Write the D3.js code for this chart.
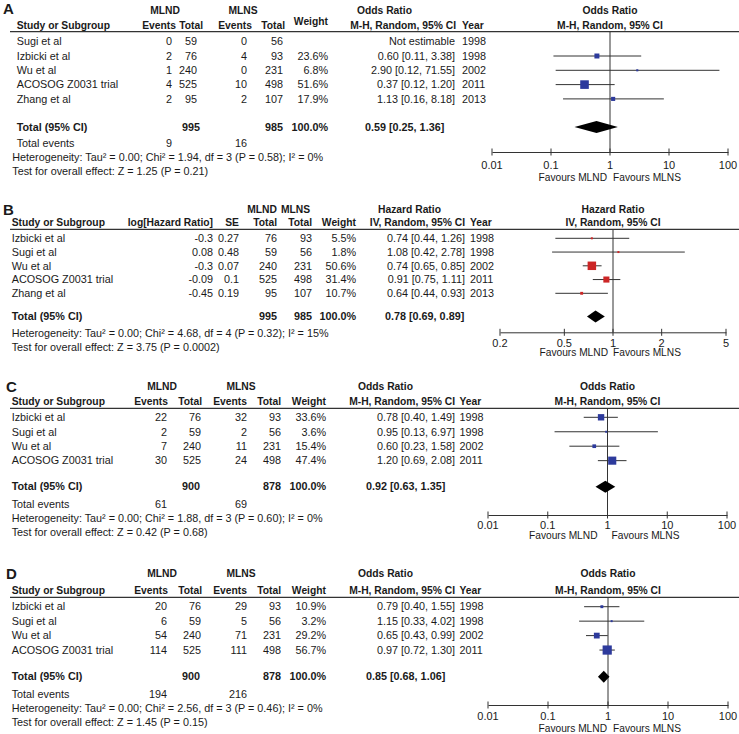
<!DOCTYPE html>
<html><head><meta charset="utf-8">
<script src="https://cdn.jsdelivr.net/npm/d3@7"></script>
<style>
body{margin:0;background:#fff}
text{font-family:"Liberation Sans",Arial,sans-serif;fill:#1a1a1a}
</style>
</head><body>
<svg id="chart" width="739" height="734"></svg>
<script>
// ---------------- DATA ----------------
// Panel A
const studiesA = ["Sugi et al","Izbicki et al","Wu et al","ACOSOG Z0031 trial","Zhang et al"];
const evtNdA = [0,2,1,4,2];
const totNdA = [59,76,240,525,95];
const evtNsA = [0,4,0,10,2];
const totNsA = [56,93,231,498,107];
const weightA = [null,23.6,6.8,51.6,17.9];
const estA = [null,0.60,2.90,0.37,1.13];
const lowA = [null,0.11,0.12,0.12,0.16];
const highA = [null,3.38,71.55,1.20,8.18];
const yearA = [1998,1998,2002,2011,2013];
const totalsA = [995,985];
const pooledA = [0.59,0.25,1.36];
const totalEventsA = [9,16];
const hetA = "Heterogeneity: Tau\u00b2 = 0.00; Chi\u00b2 = 1.94, df = 3 (P = 0.58); I\u00b2 = 0%";
const testA = "Test for overall effect: Z = 1.25 (P = 0.21)";

// Panel B
const studiesB = ["Izbicki et al","Sugi et al","Wu et al","ACOSOG Z0031 trial","Zhang et al"];
const logHRB = [-0.3,0.08,-0.3,-0.09,-0.45];
const seB = [0.27,0.48,0.07,0.1,0.19];
const totNdB = [76,59,240,525,95];
const totNsB = [93,56,231,498,107];
const weightB = [5.5,1.8,50.6,31.4,10.7];
const estB = [0.74,1.08,0.74,0.91,0.64];
const lowB = [0.44,0.42,0.65,0.75,0.44];
const highB = [1.26,2.78,0.85,1.11,0.93];
const yearB = [1998,1998,2002,2011,2013];
const totalsB = [995,985];
const pooledB = [0.78,0.69,0.89];
const hetB = "Heterogeneity: Tau\u00b2 = 0.00; Chi\u00b2 = 4.68, df = 4 (P = 0.32); I\u00b2 = 15%";
const testB = "Test for overall effect: Z = 3.75 (P = 0.0002)";

// Panel C
const studiesC = ["Izbicki et al","Sugi et al","Wu et al","ACOSOG Z0031 trial"];
const evtNdC = [22,2,7,30];
const totNdC = [76,59,240,525];
const evtNsC = [32,2,11,24];
const totNsC = [93,56,231,498];
const weightC = [33.6,3.6,15.4,47.4];
const estC = [0.78,0.95,0.60,1.20];
const lowC = [0.40,0.13,0.23,0.69];
const highC = [1.49,6.97,1.58,2.08];
const yearC = [1998,1998,2002,2011];
const totalsC = [900,878];
const pooledC = [0.92,0.63,1.35];
const totalEventsC = [61,69];
const hetC = "Heterogeneity: Tau\u00b2 = 0.00; Chi\u00b2 = 1.88, df = 3 (P = 0.60); I\u00b2 = 0%";
const testC = "Test for overall effect: Z = 0.42 (P = 0.68)";

// Panel D
const studiesD = ["Izbicki et al","Sugi et al","Wu et al","ACOSOG Z0031 trial"];
const evtNdD = [20,6,54,114];
const totNdD = [76,59,240,525];
const evtNsD = [29,5,71,111];
const totNsD = [93,56,231,498];
const weightD = [10.9,3.2,29.2,56.7];
const estD = [0.79,1.15,0.65,0.97];
const lowD = [0.40,0.33,0.43,0.72];
const highD = [1.55,4.02,0.99,1.30];
const yearD = [1998,1998,2002,2011];
const totalsD = [900,878];
const pooledD = [0.85,0.68,1.06];
const totalEventsD = [194,216];
const hetD = "Heterogeneity: Tau\u00b2 = 0.00; Chi\u00b2 = 2.56, df = 3 (P = 0.46); I\u00b2 = 0%";
const testD = "Test for overall effect: Z = 1.45 (P = 0.15)";

// Axis ticks
const orTicks = [0.01,0.1,1,10,100];
const orTickLabels = ["0.01","0.1","1","10","100"];
const hrTicks = [0.2,0.5,1,2,5];
const hrTickLabels = ["0.2","0.5","1","2","5"];
const favourLabels = ["Favours MLND","Favours MLNS"];

// ---------------- DRAWING ----------------
const svg = d3.select("#chart");
const FS = 10.8;
const HFS = 10.3;
const LINE = "#333";
const BLUE = "#2d3a9c";
const RED = "#cc2626";

function txt(x, y, s, o = {}) {
  return svg.append("text")
    .attr("x", x).attr("y", y).attr("dy", "0.35em")
    .attr("text-anchor", o.anchor || "start")
    .attr("font-size", o.size || (o.bold ? HFS : FS))
    .attr("font-weight", o.bold ? "bold" : "normal")
    .text(s);
}
const ciStr = (e, l, h) => `${e.toFixed(2)} [${l.toFixed(2)}, ${h.toFixed(2)}]`;
const sizeScale = d3.scalePow().exponent(0.7).domain([0, 55]).range([0, 9]);

function drawPanel(p) {
  const rowY = i => p.rowY0 + i * p.rowStep;

  txt(p.letterX, p.letterY, p.letter, {bold: true, size: 15});

  p.groups.forEach(gp => txt(gp.x, p.h1Y, gp.label, {bold: true, anchor: gp.anchor || "middle"}));
  txt(p.labelX, p.h2Y, "Study or Subgroup", {bold: true});
  p.cols.forEach(c => {
    txt(c.hx, c.hy !== undefined ? c.hy : p.h2Y, c.hdr, {bold: true, anchor: "end"});
    c.values.forEach((v, i) => {
      if (v === null || v === undefined) return;
      txt(c.x, rowY(i), c.fmt ? c.fmt(v) : String(v), {anchor: "end"});
    });
    if (c.total !== undefined) txt(c.tx !== undefined ? c.tx : c.x, p.totalY, String(c.total), {anchor: "end", bold: true, size: FS});
    if (c.events !== undefined) txt(c.x, p.totEventsY, String(c.events), {anchor: "end"});
  });
  txt(p.ciH1X, p.h1Y, p.measure, {bold: true});
  txt(p.ciHX, p.h2Y, p.method, {bold: true, anchor: "end"});
  txt(p.yearX, p.h2Y, "Year", {bold: true});

  p.studies.forEach((s, i) => {
    txt(p.labelX, rowY(i), s);
    txt(p.ciX, rowY(i), p.est[i] === null ? "Not estimable" : ciStr(p.est[i], p.low[i], p.high[i]), {anchor: "end"});
    txt(p.yearX, rowY(i), String(p.year[i]));
  });
  txt(p.labelX, p.totalY, "Total (95% CI)", {bold: true, size: FS});
  txt(p.totCiX, p.totalY, ciStr(p.pooled[0], p.pooled[1], p.pooled[2]), {bold: true, size: FS});
  if (p.totEventsY !== undefined) txt(p.labelX, p.totEventsY, "Total events");
  txt(p.hetX, p.hetY, p.het);
  txt(p.hetX, p.testY, p.test);

  svg.append("line").attr("x1", 10).attr("x2", 739).attr("y1", p.ruleY).attr("y2", p.ruleY)
    .attr("stroke", LINE).attr("stroke-width", 1.3);

  const x = d3.scaleLog().domain(p.domain).range(p.range);
  const cx = x(1);
  txt(cx, p.h1Y, p.measure, {bold: true, anchor: "middle"});
  txt(cx, p.h2Y, p.method, {bold: true, anchor: "middle"});

  svg.append("line").attr("x1", cx).attr("x2", cx).attr("y1", p.ruleY).attr("y2", p.axisY)
    .attr("stroke", LINE).attr("stroke-width", 1);

  p.studies.forEach((s, i) => {
    if (p.est[i] === null) return;
    const y = rowY(i);
    svg.append("line").attr("x1", x(p.low[i])).attr("x2", x(p.high[i]))
      .attr("y1", y).attr("y2", y).attr("stroke", LINE).attr("stroke-width", 1);
    const sz = Math.max(2, sizeScale(p.weight[i]));
    svg.append("rect").attr("x", x(p.est[i]) - sz / 2).attr("y", y - sz / 2)
      .attr("width", sz).attr("height", sz).attr("fill", p.color);
  });
  const ty = p.totalY, hh = 6;
  svg.append("path")
    .attr("d", `M${x(p.pooled[1])},${ty}L${x(p.pooled[0])},${ty - hh}L${x(p.pooled[2])},${ty}L${x(p.pooled[0])},${ty + hh}Z`)
    .attr("fill", "#000");

  const axis = d3.axisBottom(x).tickValues(p.ticks).tickSize(0).tickFormat("");
  const ag = svg.append("g").attr("transform", `translate(0,${p.axisY})`).call(axis);
  ag.select(".domain").attr("stroke", LINE).attr("stroke-width", 1);
  ag.selectAll(".tick line").remove();
  p.ticks.forEach((t, i) => {
    svg.append("line").attr("x1", x(t)).attr("x2", x(t)).attr("y1", p.axisY - 3.5).attr("y2", p.axisY + 3.5)
      .attr("stroke", LINE).attr("stroke-width", 1);
    txt(x(t), p.tickLabY, p.tickLabels[i], {anchor: "middle", size: 11});
  });
  txt(cx + p.favL, p.favY, favourLabels[0], {anchor: "end", size: 10.2});
  txt(cx + p.favR, p.favY, favourLabels[1], {size: 10.2});
}

drawPanel({
  letter: "A", letterX: 3, letterY: 8.5,
  h1Y: 10, h2Y: 25, ruleY: 31.7, rowY0: 41.7, rowStep: 14.3,
  totalY: 127, totEventsY: 143, hetY: 157.3, testY: 171.5, hetX: 12.3, labelX: 16.7,
  groups: [{label: "MLND", x: 165}, {label: "MLNS", x: 243}],
  cols: [
    {hdr: "Events", hx: 176, x: 172, values: evtNdA, events: totalEventsA[0]},
    {hdr: "Total", hx: 203, x: 197, values: totNdA, total: totalsA[0], tx: 200},
    {hdr: "Events", hx: 252, x: 247, values: evtNsA, events: totalEventsA[1]},
    {hdr: "Total", hx: 285, x: 283, values: totNsA, total: totalsA[1]},
    {hdr: "Weight", hx: 328, hy: 21.7, x: 328, values: weightA, fmt: v => v.toFixed(1) + "%", total: "100.0%"}
  ],
  measure: "Odds Ratio", method: "M-H, Random, 95% CI",
  ciH1X: 357, ciHX: 456, ciX: 455, yearX: 462, totCiX: 365,
  studies: studiesA, est: estA, low: lowA, high: highA, weight: weightA, year: yearA, pooled: pooledA,
  het: hetA, test: testA, color: BLUE,
  domain: [0.01, 100], range: [492, 728], ticks: orTicks, tickLabels: orTickLabels,
  axisY: 152, tickLabY: 165, favY: 177, favL: -3, favR: 3
});

drawPanel({
  letter: "B", letterX: 3, letterY: 210,
  h1Y: 209, h2Y: 222.7, ruleY: 229.3, rowY0: 238.3, rowStep: 13.75,
  totalY: 316.5, hetY: 333, testY: 347.3, hetX: 11.7, labelX: 11.7,
  groups: [{label: "MLND", x: 277, anchor: "end"}, {label: "MLNS", x: 281, anchor: "start"}],
  cols: [
    {hdr: "log[Hazard Ratio]", hx: 213, x: 213, values: logHRB},
    {hdr: "SE", hx: 239, x: 239, values: seB},
    {hdr: "Total", hx: 277, x: 277, values: totNdB, total: totalsB[0]},
    {hdr: "Total", hx: 312, x: 312, values: totNsB, total: totalsB[1]},
    {hdr: "Weight", hx: 356, x: 356, values: weightB, fmt: v => v.toFixed(1) + "%", total: "100.0%"}
  ],
  measure: "Hazard Ratio", method: "IV, Random, 95% CI",
  ciH1X: 378, ciHX: 465, ciX: 465, yearX: 470, totCiX: 385,
  studies: studiesB, est: estB, low: lowB, high: highB, weight: weightB, year: yearB, pooled: pooledB,
  het: hetB, test: testB, color: RED,
  domain: [0.2, 5], range: [500, 726], ticks: hrTicks, tickLabels: hrTickLabels,
  axisY: 332.3, tickLabY: 342.7, favY: 352.7, favL: -5, favR: 0
});

drawPanel({
  letter: "C", letterX: 6, letterY: 386.7,
  h1Y: 386.7, h2Y: 401, ruleY: 408.3, rowY0: 417.3, rowStep: 14.45,
  totalY: 486.7, totEventsY: 504, hetY: 518.3, testY: 532.7, hetX: 11.7, labelX: 11.7,
  groups: [{label: "MLND", x: 162}, {label: "MLNS", x: 241}],
  cols: [
    {hdr: "Events", hx: 168, x: 167, values: evtNdC, events: totalEventsC[0]},
    {hdr: "Total", hx: 202, x: 201, values: totNdC, total: totalsC[0], tx: 200},
    {hdr: "Events", hx: 247, x: 247, values: evtNsC, events: totalEventsC[1]},
    {hdr: "Total", hx: 281, x: 281, values: totNsC, total: totalsC[1]},
    {hdr: "Weight", hx: 326, x: 326, values: weightC, fmt: v => v.toFixed(1) + "%", total: "100.0%"}
  ],
  measure: "Odds Ratio", method: "M-H, Random, 95% CI",
  ciH1X: 358, ciHX: 455, ciX: 455, yearX: 459.5, totCiX: 366,
  studies: studiesC, est: estC, low: lowC, high: highC, weight: weightC, year: yearC, pooled: pooledC,
  het: hetC, test: testC, color: BLUE,
  domain: [0.01, 100], range: [488, 727], ticks: orTicks, tickLabels: orTickLabels,
  axisY: 515, tickLabY: 525, favY: 535.5, favL: -10, favR: 4
});

drawPanel({
  letter: "D", letterX: 6, letterY: 573.3,
  h1Y: 573, h2Y: 590, ruleY: 597.3, rowY0: 606.7, rowStep: 14.45,
  totalY: 676.7, totEventsY: 694, hetY: 708.3, testY: 722.7, hetX: 11.7, labelX: 11.7,
  groups: [{label: "MLND", x: 162}, {label: "MLNS", x: 241}],
  cols: [
    {hdr: "Events", hx: 168, x: 167, values: evtNdD, events: totalEventsD[0]},
    {hdr: "Total", hx: 202, x: 201, values: totNdD, total: totalsD[0], tx: 200},
    {hdr: "Events", hx: 247, x: 247, values: evtNsD, events: totalEventsD[1]},
    {hdr: "Total", hx: 281, x: 281, values: totNsD, total: totalsD[1]},
    {hdr: "Weight", hx: 326, x: 326, values: weightD, fmt: v => v.toFixed(1) + "%", total: "100.0%"}
  ],
  measure: "Odds Ratio", method: "M-H, Random, 95% CI",
  ciH1X: 358, ciHX: 455, ciX: 455, yearX: 459.5, totCiX: 366,
  studies: studiesD, est: estD, low: lowD, high: highD, weight: weightD, year: yearD, pooled: pooledD,
  het: hetD, test: testD, color: BLUE,
  domain: [0.01, 100], range: [488, 728], ticks: orTicks, tickLabels: orTickLabels,
  axisY: 705, tickLabY: 716, favY: 728, favL: -1, favR: 5
});
</script>
</body></html>
